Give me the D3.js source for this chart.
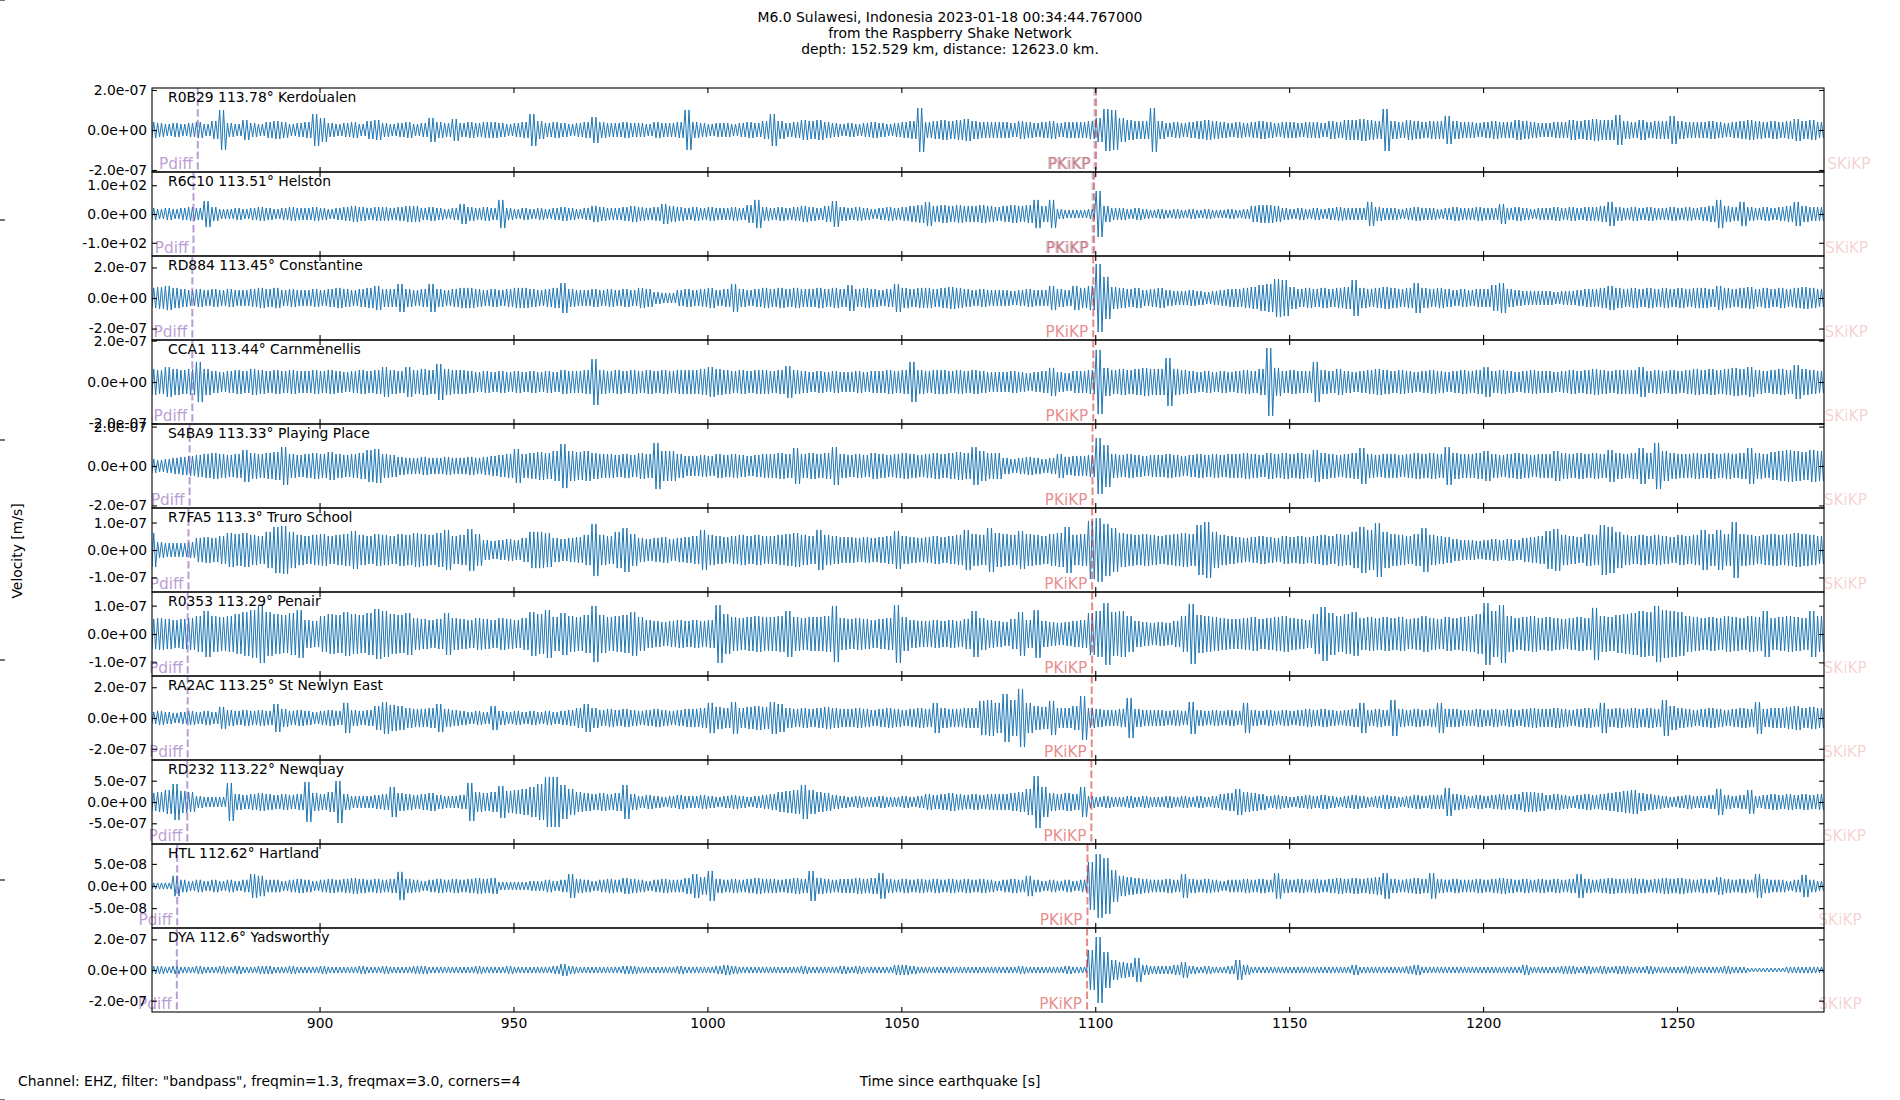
<!doctype html>
<html lang="en">
<head>
	<meta charset="UTF-8">
	<title>M6.0 Sulawesi record section</title>
	<script src="https://cdn.jsdelivr.net/npm/d3@7"></script>
	<style>
		body { margin: 0; background: #fff; }
		text { font-family: "DejaVu Sans", sans-serif; }
	</style>
</head>
<body>
<div id="container"></div>
<script>
	// stations, top to bottom
	var stationCodes = ["R0B29", "R6C10", "RD884", "CCA1", "S4BA9", "R7FA5", "R0353", "RA2AC", "RD232", "HTL", "DYA"];
	var stationDistances = [113.78, 113.51, 113.45, 113.44, 113.33, 113.3, 113.29, 113.25, 113.22, 112.62, 112.6];
	var stationNames = ["Kerdoualen", "Helston", "Constantine", "Carnmenellis", "Playing Place", "Truro School", "Penair", "St Newlyn East", "Newquay", "Hartland", "Yadsworthy"];

	// y limits and the +/- tick of each panel
	var yLimits = [2.1e-7, 146, 2.75e-7, 2.03e-7, 2.13e-7, 1.53e-7, 1.48e-7, 2.73e-7, 9.86e-7, 9.5e-8, 2.74e-7];
	var yTickValues = [2e-7, 100, 2e-7, 2e-7, 2e-7, 1e-7, 1e-7, 2e-7, 5e-7, 5e-8, 2e-7];

	// phase arrivals [s]
	var pdiffTimes = [868.6, 867.5, 867.2, 867.2, 866.5, 866.2, 866.0, 866.0, 865.9, 863.3, 863.2];
	var pkikpTimes = [1100.2, 1099.7, 1099.5, 1099.5, 1099.3, 1099.2, 1099.2, 1099.1, 1099.0, 1098.0, 1097.9];
	var pkikpEarlyTimes = [1099.8, 1099.3, null, null, null, null, null, null, null, null, null];
	var skikpTimes = [1301.2, 1300.6, 1300.5, 1300.5, 1300.3, 1300.2, 1300.2, 1300.1, 1300.0, 1298.9, 1298.9];

	var timeRange = [856.8, 1287.9];
	var xTickValues = [900, 950, 1000, 1050, 1100, 1150, 1200, 1250];

	// trace envelopes: peak amplitude in 2 s bins starting at 857 s
	var binStart = 857, binStep = 2;
	var ampUnits = [1e-9, 1, 1e-9, 1e-9, 1e-9, 1e-9, 1e-9, 1e-9, 1e-9, 1e-9, 1e-9]; // nm/s, Helston in counts
	var ampR0B29 = [40,35,30,35,30,35,40,30,45,100, 35,30,50,35,30,40,45,40,30,35, 40,80,60,35,30,35,40,30,45,50, 35,30,35,40,30,35,60,40,35,55, 35,40,35,40,40,35,30,35,40,80, 45,35,40,35,30,35,40,65,40,35, 35,40,35,35,30,40,35,35,40,100, 40,35,30,35,35,30,35,40,35,45, 80,45,35,40,50,45,50,40,35,30, 35,30,35,40,35,30,35,40,45,110, 40,45,50,45,50,55,45,40,40,40, 40,35,45,40,35,40,45,35,40,40, 40,45,60,105,100,60,50,45,45,110, 45,35,40,35,40,45,50,45,40,35, 40,35,40,45,40,35,40,40,35,40, 40,35,45,40,50,50,55,50,45,105, 45,40,50,45,40,45,45,70,45,40, 40,35,40,45,40,40,50,45,40,35, 35,40,40,50,45,50,55,50,50,75, 45,40,50,40,45,45,70,45,40,40, 40,45,40,35,40,45,50,45,40,45, 40,45,55,45,50,40];
	var ampR6C10 = [21,17,21,17,21,24,21,45,24,17, 17,21,17,21,24,21,17,21,24,21, 21,24,21,17,21,24,28,24,21,24, 24,21,24,28,28,21,24,21,17,21, 35,24,21,24,21,49,21,17,21,17, 21,17,21,24,21,17,21,28,24,21, 21,24,28,24,21,24,35,28,24,21, 24,21,24,21,21,24,21,31,49,24, 21,24,21,24,28,24,21,28,45,24, 21,24,21,17,21,24,21,24,28,31, 42,28,31,28,31,28,28,31,28,24, 28,31,28,31,49,28,49,17,14,14, 14,17,80,28,21,21,17,21,17,14, 17,14,17,14,17,14,17,14,14,17, 14,17,28,31,31,28,21,17,21,17, 21,17,21,24,21,21,21,42,24,21, 21,17,21,24,21,21,17,21,24,21, 21,24,21,21,35,21,24,21,17,21, 21,24,21,24,21,24,24,28,42,24, 21,24,21,24,21,21,24,21,24,21, 24,28,49,28,24,42,24,21,24,21, 24,28,42,28,24,24];
	var ampRD884 = [66,72,79,66,59,52,59,52,59,52, 59,52,52,59,66,59,66,52,59,52, 52,59,52,59,66,59,52,59,66,79, 59,59,92,59,52,59,92,59,52,59, 66,66,59,52,59,52,59,66,66,59, 52,59,66,98,59,52,52,59,52,59, 52,59,52,66,59,39,33,33,52,59, 52,59,66,52,59,92,59,52,59,66, 59,66,59,66,59,59,66,59,66,59, 85,59,66,59,52,59,92,66,59,66, 66,59,66,72,66,59,52,59,52,52, 52,46,52,59,52,52,79,59,52,79, 66,79,223,138,72,66,59,66,52,59, 66,52,46,46,52,46,39,46,52,59, 59,66,72,85,92,124,118,72,59,66, 59,66,59,66,72,118,66,59,66,72, 66,59,66,98,66,59,66,59,52,59, 52,59,59,85,98,59,52,46,46,46, 46,39,46,46,52,59,59,66,79,66, 59,66,59,66,59,66,59,66,59,66, 66,59,79,66,59,66,72,59,66,59, 66,59,66,72,66,59];
	var ampCCA1 = [63,58,72,63,58,63,97,63,53,48, 53,58,53,63,58,53,58,53,58,53, 53,58,53,58,53,48,53,58,53,58, 72,58,53,72,58,63,58,87,63,58, 58,53,48,53,48,53,48,53,48,53, 48,53,48,58,53,53,58,111,58,53, 58,53,58,53,58,53,58,53,58,58, 58,63,72,63,58,53,58,53,58,58, 53,58,77,58,53,48,53,48,53,48, 48,53,48,53,53,58,53,58,97,58, 53,58,58,53,58,53,58,53,48,48, 48,53,48,43,48,53,68,48,43,53, 53,58,155,68,58,63,58,63,68,63, 63,116,63,58,53,48,53,48,53,48, 53,58,53,63,164,68,53,58,53,53, 97,58,53,63,53,48,53,58,63,58, 53,58,53,48,53,58,53,48,53,58, 53,58,72,53,58,53,48,53,58,53, 53,48,53,58,53,58,63,58,53,58, 58,58,72,53,58,53,58,53,58,63, 58,63,58,63,68,63,72,58,53,58, 63,58,82,63,58,53];
	var ampS4BA9 = [35,30,35,41,46,51,56,61,66,61, 56,61,81,66,61,66,71,96,61,56, 61,66,61,71,61,56,61,66,81,86, 61,56,46,41,41,46,41,41,46,41, 41,46,41,46,51,56,61,86,61,66, 71,66,76,112,76,71,76,66,61,61, 56,61,56,66,61,117,76,76,61,51, 51,56,51,61,56,61,56,51,56,61, 61,66,61,91,61,66,61,66,96,61, 56,61,56,66,61,56,61,66,61,56, 61,66,61,66,71,66,96,76,66,66, 41,35,41,46,41,35,41,61,46,51, 51,56,142,106,61,56,61,56,51,56, 56,61,56,51,56,61,56,61,56,61, 61,66,61,56,66,61,66,61,66,61, 81,66,61,56,61,66,91,61,56,61, 61,56,61,66,61,66,61,96,66,61, 61,66,76,61,56,61,66,61,56,61, 61,76,66,61,66,61,66,61,81,66, 61,66,91,66,117,76,66,61,61,66, 61,66,61,66,61,66,91,66,61,71, 76,81,76,71,81,76];
	var ampR7FA5 = [62,29,25,25,25,29,44,47,44,51, 62,58,62,55,51,66,84,87,66,55, 51,55,58,51,55,58,69,55,51,58, 55,51,58,55,62,58,55,62,73,51, 55,76,58,36,33,36,40,36,44,66, 66,62,44,40,44,47,55,95,55,51, 66,80,58,44,40,44,47,40,44,47, 51,73,55,51,47,51,55,51,55,51, 51,55,58,62,55,51,73,55,51,47, 47,44,47,44,47,51,69,51,47,44, 47,51,47,51,55,73,58,55,80,62, 58,55,69,58,55,51,58,62,84,55, 58,106,116,95,80,62,58,55,58,55, 51,55,58,62,58,91,102,66,55,51, 47,44,47,51,47,44,51,47,51,47, 51,55,51,58,55,66,84,73,98,66, 58,55,51,58,80,55,51,47,40,36, 36,33,36,40,36,40,36,44,47,51, 69,76,55,51,47,58,55,91,84,66, 55,51,55,51,55,51,47,55,51,55, 73,58,73,58,102,58,55,51,55,58, 55,58,62,58,55,51];
	var ampR0353 = [53,56,53,49,53,56,63,81,63,60, 63,70,77,84,102,77,70,67,74,84, 49,46,63,70,67,77,70,67,74,88, 81,70,67,74,56,53,49,53,74,56, 53,49,56,53,49,56,53,49,56,77, 70,84,60,74,63,60,67,99,67,60, 63,67,77,60,49,46,42,46,49,46, 49,46,49,102,70,60,56,60,63,60, 60,63,81,60,56,60,60,63,99,56, 53,56,53,49,53,56,102,60,49,46, 46,49,46,49,46,53,81,56,49,46, 42,53,77,49,84,46,42,39,42,46, 49,74,81,109,77,81,63,46,42,39, 42,39,46,63,106,67,63,60,56,53, 53,56,60,53,56,60,63,56,53,49, 70,95,74,63,70,77,56,60,56,60, 56,60,53,56,63,56,53,60,56,60, 63,70,109,81,102,63,56,60,63,56, 60,56,53,56,60,56,92,63,60,67, 70,74,81,77,99,84,81,77,63,60, 56,60,56,63,60,56,63,60,81,56, 60,63,60,56,81,63];
	var ampRA2AC = [39,46,39,33,39,46,39,46,39,72, 52,46,52,46,52,46,91,59,46,52, 46,39,46,52,46,98,52,46,52,78, 104,85,78,65,59,59,65,91,59,52, 46,39,46,39,78,46,39,46,39,46, 39,46,39,46,52,65,91,65,52,59, 52,59,52,46,52,59,52,46,52,59, 59,65,98,72,65,104,65,72,78,72, 104,91,65,59,65,59,65,72,65,59, 59,65,59,52,59,65,59,52,59,65, 59,98,65,59,59,65,65,111,117,98, 156,117,189,98,78,72,111,65,65,78, 143,65,59,52,52,59,130,59,52,52, 52,46,52,46,104,52,46,52,46,52, 46,98,52,46,52,46,52,46,52,59, 52,59,52,46,52,59,98,52,59,52, 117,59,52,59,52,59,98,59,59,52, 52,59,52,59,52,59,52,59,65,59, 59,65,59,52,59,65,59,98,59,65, 59,65,59,65,59,117,78,65,59,52, 59,65,59,52,59,65,59,104,59,65, 65,72,78,65,72,65];
	var ampRD232 = [212,235,282,423,259,235,141,118,118,118, 447,188,165,188,212,188,165,188,165,188, 470,212,188,235,494,188,141,141,141,165, 188,353,212,188,165,188,212,165,141,141, 165,447,235,212,235,376,259,282,306,353, 423,588,588,400,306,235,212,188,212,188, 212,400,188,141,165,141,118,141,165,141, 141,165,141,118,141,165,141,118,141,165, 188,235,259,282,400,282,235,212,165,141, 118,141,118,118,141,118,118,141,118,141, 188,165,188,212,188,165,188,165,188,188, 188,212,235,306,611,353,212,188,212,188, 353,141,118,141,118,118,141,118,141,118, 118,141,118,141,118,141,118,141,188,212, 306,235,212,188,141,165,141,118,141,165, 141,165,141,118,141,165,141,118,141,165, 141,118,141,165,141,165,165,329,188,165, 141,165,141,165,188,165,188,235,235,212, 165,188,165,141,165,188,165,188,212,235, 259,282,212,188,165,141,118,141,165,141, 141,165,306,165,141,165,282,141,165,188, 165,188,165,188,165,188];
	var ampHTL = [7,7,7,23,14,11,14,11,14,11, 14,11,14,27,23,14,14,11,14,16, 14,11,14,16,14,16,18,16,14,16, 14,16,32,16,14,11,14,16,14,16, 14,16,18,16,18,9,9,9,9,11, 11,14,11,14,27,16,14,11,14,16, 14,18,16,14,11,14,16,14,14,18, 27,20,34,16,14,16,14,16,18,16, 16,14,16,18,16,34,18,16,14,16, 16,18,16,18,29,16,14,16,14,16, 14,16,14,16,14,16,14,16,14,11, 14,16,14,23,14,11,14,11,14,11, 14,54,72,63,36,23,20,18,16,14, 14,16,14,27,16,14,16,14,11,14, 14,16,14,16,14,29,16,14,16,14, 16,14,16,18,16,18,16,18,20,29, 16,14,16,18,16,29,16,14,16,14, 14,16,14,16,18,16,14,16,14,16, 14,16,14,16,27,16,14,16,18,16, 16,18,16,14,16,18,16,18,16,14, 16,14,20,16,14,16,14,27,16,14, 14,11,14,25,14,11];
	var ampDYA = [26,26,20,26,20,20,26,20,20,26, 20,26,20,20,26,26,20,20,26,20, 20,20,26,20,20,20,20,26,20,20, 26,20,20,20,26,26,20,20,20,20, 20,20,26,20,20,20,26,20,20,20, 20,20,26,39,26,20,20,20,20,20, 20,26,26,20,20,20,20,20,26,20, 20,20,20,26,33,26,20,20,20,20, 20,20,20,20,26,20,20,20,20,26, 20,26,20,20,20,20,33,33,26,20, 20,20,20,20,20,20,20,20,20,20, 20,20,26,20,20,20,20,20,26,20, 20,130,215,117,65,52,46,78,33,26, 26,26,33,52,26,20,26,20,20,26, 65,33,20,20,20,20,20,20,20,20, 20,20,20,20,20,33,20,20,20,20, 20,20,26,33,20,20,20,20,20,20, 20,20,20,20,20,20,20,33,20,20, 20,20,26,26,20,26,20,26,20,26, 26,20,20,26,20,20,20,20,26,20, 20,20,20,26,20,20,13,13,13,13, 13,20,20,20,20,20];

	var traces = [ampR0B29, ampR6C10, ampRD884, ampCCA1, ampS4BA9, ampR7FA5, ampR0353, ampRA2AC, ampRD232, ampHTL, ampDYA];

	var titleLines = ["M6.0 Sulawesi, Indonesia 2023-01-18 00:34:44.767000", "from the Raspberry Shake Network", "depth: 152.529 km, distance: 12623.0 km."];

	var width = 1900, height = 1100;
	var margin = {"left": 152, "top": 88, "right": 76, "bottom": 88};
	var g_width = width - margin.left - margin.right;
	var g_height = height - margin.top - margin.bottom;
	var panel_h = g_height / stationCodes.length;
	var tick_len = 4.9;
	var font_size = 13.9;
	var phase_font = 15.3;

	var colTrace = "#1f77b4";
	var colPdiff = "#9467bd";
	var colPkikp = "#d62728";
	var colEarly = "#5a6fa0";

	// matplotlib style %.1e
	function fmtExp(v) {
		if (v === 0) return "0.0e+00";
		var parts = v.toExponential(1).split("e");
		var e = parseInt(parts[1], 10);
		return parts[0] + "e" + (e < 0 ? "-" : "+") + String(Math.abs(e)).padStart(2, "0");
	}

	var svg = d3.select("#container")
			.append("svg")
			.attr("width", width)
			.attr("height", height)
			.style("display", "block");

	svg.append("rect").attr("width", width).attr("height", height).attr("fill", "#fff");

	var scale_x = d3.scaleLinear()
			.domain(timeRange)
			.range([0, g_width]);

	stationCodes.forEach(function (code, i) {
		var g = svg.append("g")
				.attr("transform", "translate(" + margin.left + "," + (margin.top + i * panel_h) + ")");

		var scale_y = d3.scaleLinear()
				.domain([-yLimits[i], yLimits[i]])
				.range([panel_h, 0]);

		var clipId = "clip" + i;
		g.append("clipPath").attr("id", clipId)
				.append("rect").attr("width", g_width).attr("height", panel_h);

		// waveform: each 2 s bin drawn as two swings reaching its peak amplitude
		var unit = ampUnits[i];
		var pts = [];
		traces[i].forEach(function (v, k) {
			var t = binStart + k * binStep;
			[-0.375, -0.125, 0.125, 0.375].forEach(function (f, j) {
				pts.push([t + f * binStep, (j % 2 === 0 ? v : -v) * unit]);
			});
		});
		var line_generator = d3.line()
				.x(function (d) { return scale_x(d[0]); })
				.y(function (d) { return scale_y(d[1]); });

		g.append("path")
				.attr("d", line_generator(pts))
				.attr("fill", "none")
				.attr("stroke", colTrace)
				.attr("stroke-width", 1)
				.attr("stroke-linejoin", "round")
				.attr("clip-path", "url(#" + clipId + ")");

		// phase markers
		function phase(t, color, alpha, label) {
			var px = scale_x(t);
			g.append("line")
					.attr("x1", px).attr("x2", px)
					.attr("y1", 0).attr("y2", panel_h)
					.attr("stroke", color)
					.attr("stroke-opacity", alpha)
					.attr("stroke-width", 2)
					.attr("stroke-dasharray", "7.4,3.2")
					.attr("clip-path", "url(#" + clipId + ")");
			g.append("text")
					.attr("x", px - 5)
					.attr("y", panel_h - 3)
					.attr("text-anchor", "end")
					.attr("font-size", phase_font)
					.attr("fill", color)
					.attr("fill-opacity", alpha)
					.text(label);
		}
		phase(pdiffTimes[i], colPdiff, 0.65, "Pdiff");
		if (pkikpEarlyTimes[i] !== null) phase(pkikpEarlyTimes[i], colEarly, 0.4, "PKiKP");
		phase(pkikpTimes[i], colPkikp, 0.55, "PKiKP");
		phase(skikpTimes[i], colPkikp, 0.22, "SKiKP");

		// station label
		g.append("text")
				.attr("x", 16)
				.attr("y", 14)
				.attr("font-size", font_size)
				.attr("fill", "#000")
				.text(code + " " + stationDistances[i] + "\u00b0 " + stationNames[i]);

		// axes, ticks pointing in
		var yt = [yTickValues[i], 0, -yTickValues[i]];
		var y_axis = d3.axisLeft(scale_y).tickValues(yt).tickFormat(fmtExp)
				.tickSizeInner(-tick_len).tickSizeOuter(0).tickPadding(tick_len);
		var y_axis_r = d3.axisRight(scale_y).tickValues(yt).tickFormat("")
				.tickSizeInner(-tick_len).tickSizeOuter(0);
		var x_axis_t = d3.axisTop(scale_x).tickValues(xTickValues).tickFormat("")
				.tickSizeInner(-tick_len).tickSizeOuter(0);
		var x_axis_b = d3.axisBottom(scale_x).tickValues(xTickValues).tickFormat(d3.format("d"))
				.tickSizeInner(-tick_len).tickSizeOuter(0).tickPadding(6);
		if (i < stationCodes.length - 1) x_axis_b.tickFormat("");

		g.append("g").call(y_axis);
		g.append("g").attr("transform", "translate(" + g_width + ",0)").call(y_axis_r);
		g.append("g").call(x_axis_t);
		g.append("g").attr("transform", "translate(0," + panel_h + ")").call(x_axis_b);

		g.selectAll(".domain").remove();
		g.selectAll(".tick line").attr("stroke", "#000").attr("stroke-width", 1.1);
		g.selectAll(".tick text")
				.attr("font-family", "DejaVu Sans, sans-serif")
				.attr("font-size", font_size)
				.attr("fill", "#000");

		g.append("rect")
				.attr("width", g_width).attr("height", panel_h)
				.attr("fill", "none")
				.attr("stroke", "#000")
				.attr("stroke-width", 1.1);
	});

	// title
	svg.append("g").selectAll("text")
			.data(titleLines)
			.enter().append("text")
			.attr("x", width / 2)
			.attr("y", function (d, k) { return 22 + k * 16; })
			.attr("text-anchor", "middle")
			.attr("font-size", font_size)
			.text(function (d) { return d; });

	svg.append("text")
			.attr("transform", "translate(22," + (height / 2 + 1) + ") rotate(-90)")
			.attr("text-anchor", "middle")
			.attr("font-size", font_size)
			.text("Velocity [m/s]");

	svg.append("text")
			.attr("x", width / 2)
			.attr("y", 1086)
			.attr("text-anchor", "middle")
			.attr("font-size", font_size)
			.text("Time since earthquake [s]");

	svg.append("text")
			.attr("x", 18)
			.attr("y", 1086)
			.attr("font-size", font_size)
			.text("Channel: EHZ, filter: \"bandpass\", freqmin=1.3, freqmax=3.0, corners=4");

	// ticks of the invisible full-figure axis on the left edge
	var edgeTicks = [0, 220, 440, 660, 880, 1100];
	svg.append("g").selectAll("line")
			.data(edgeTicks)
			.enter().append("line")
			.attr("x1", 0).attr("x2", tick_len)
			.attr("y1", function (d) { return d; })
			.attr("y2", function (d) { return d; })
			.attr("stroke", "#000")
			.attr("stroke-width", 1.1);
</script>
</body>
</html>
